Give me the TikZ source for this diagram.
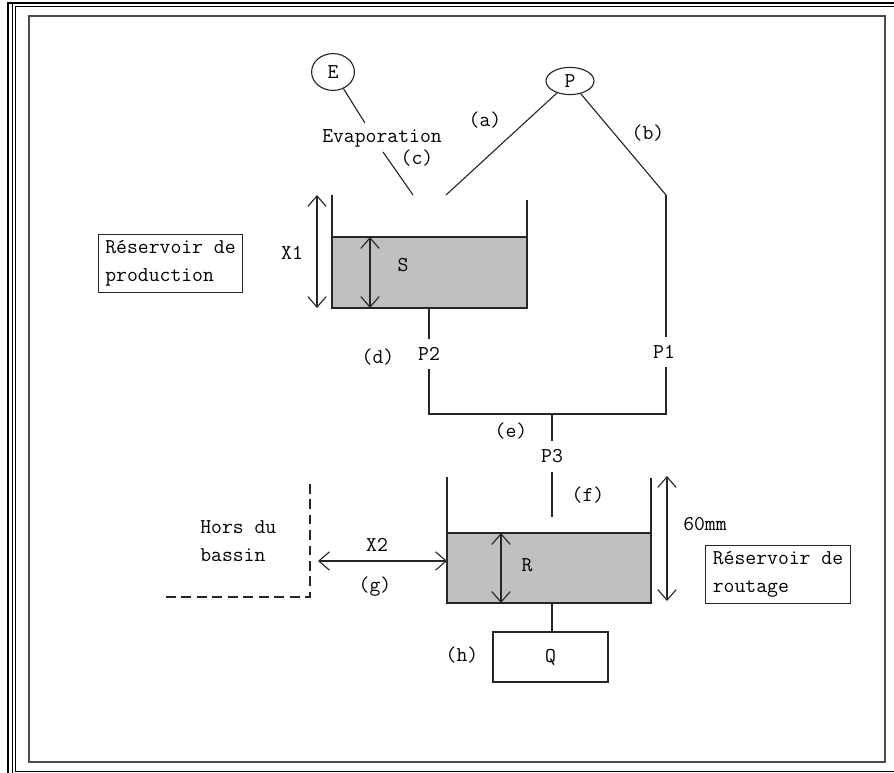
\documentclass[tikz,border=0pt]{standalone}
\usepackage{fontspec}
\usetikzlibrary{shapes.geometric, arrows.meta, positioning}

\begin{document}
\begin{tikzpicture}[x=0.025cm, y=-0.025cm,
  every node/.style={font=\ttfamily\fontsize{15}{19.8}\selectfont, inner sep=0pt},
  pipe/.style={draw=black!85, line width=0.8pt},
  dim/.style={pipe, {Straight Barb[length=7.5pt,width=13pt]}-{Straight Barb[length=7.5pt,width=13pt]}},
  water/.style={fill=black!25},
  source/.style={draw=black!85, line width=0.8pt, ellipse},
  legend/.style={draw=black!85, line width=0.8pt, align=left, inner xsep=5pt, minimum height=1.45cm},
  tag/.style={minimum height=0.75cm, inner xsep=2pt}
]
\useasboundingbox (0,0) rectangle (894,773);

% cadre
\draw[line width=1.4pt] (8,780) -- (8,3) -- (900,3);
\draw[line width=0.7pt] (12.7,4) -- (12.7,780);
\draw[line width=0.7pt] (900,6.5) -- (15.5,6.5) -- (15.5,771) -- (900,771);
\draw[line width=1.1pt, draw=black!70] (29,16) rectangle (885,762);

% entrees
\node[source, minimum width=1.07cm, minimum height=0.92cm] (evap) at (333,72) {E};
\node[source, minimum width=1.2cm, minimum height=0.68cm] (pluie) at (570,81) {P};
\node (evaptxt) at (382,138) {Evaporation};
\node at (485,120) {(a)};
\node at (648,133) {(b)};
\node at (417,158) {(c)};

\coordinate (evapEnd) at (365,123);
\coordinate (cTop) at (383,152);
\coordinate (cBot) at (413,195);
\coordinate (aEnd) at (446,195);
\coordinate (pTop) at (666,195);

\draw[pipe] (evap) -- (evapEnd);
\draw[pipe] (cTop) -- (cBot);
\draw[pipe] (pluie) -- (aEnd);
\draw[pipe] (pluie) -- (pTop);

% reservoir de production
\fill[water] (332,237) rectangle (527,308);
\draw[pipe] (332,237) -- (527,237);
\draw[pipe] (332,195) |- (527,308) -- (527,200);
\draw[dim] (317,195) -- (317,308);
\draw[dim] (370,237) -- (370,308);
\node at (292,253) {X1};
\node at (403,265) {S};
\node[legend] (prod) at (170.5,263.5) {Réservoir de\\production};

% percolation
\coordinate (sOut) at (429,308);
\coordinate (jL) at (429,414);
\coordinate (jR) at (666,414);
\coordinate (jM) at (552,414);
\node[tag] (p2) at (429,354) {P2};
\node[tag] (p1) at (664,352) {P1};
\node[tag] (p3) at (552,456.5) {P3};
\node at (378,357) {(d)};
\node at (511,431) {(e)};
\node at (588,495) {(f)};

\draw[pipe] (sOut) -- (p2);
\draw[pipe] (pTop) -- (pTop |- p1.north);
\draw[pipe] (pTop |- p1.south) -- (jR) -- (jL) -- (p2);
\draw[pipe] (jM) -- (p3);

% reservoir de routage
\coordinate (rIn) at (552,517);
\coordinate (rOut) at (552,603);
\fill[water] (447,533) rectangle (651,603);
\draw[pipe] (447,533) -- (651,533);
\draw[pipe] (447,477) |- (651,603) -- (651,478);
\draw[pipe] (p3) -- (rIn);
\draw[dim] (501,533) -- (501,603);
\draw[dim] (318,561) -- (447,561);
\draw[dim] (667,476) -- (667,601);
\node at (527,565) {R};
\node at (377,545) {X2};
\node at (375,587) {(g)};
\node[anchor=west] at (683,524) {60mm};
\node[legend] (rout) at (778,574.5) {Réservoir de\\routage};

% hors du bassin
\draw[pipe, dash pattern=on 7pt off 4pt] (166,597) -| (310,482);
\node[anchor=west, align=left] (hors) at (200,541) {Hors du\\bassin};

% debit
\node[draw=black!85, line width=0.8pt, minimum width=2.875cm, minimum height=1.25cm] (q) at (550.5,657) {Q};
\node at (462,655) {(h)};
\draw[pipe] (rOut) -- (rOut |- q.north);
\end{tikzpicture}
\end{document}
